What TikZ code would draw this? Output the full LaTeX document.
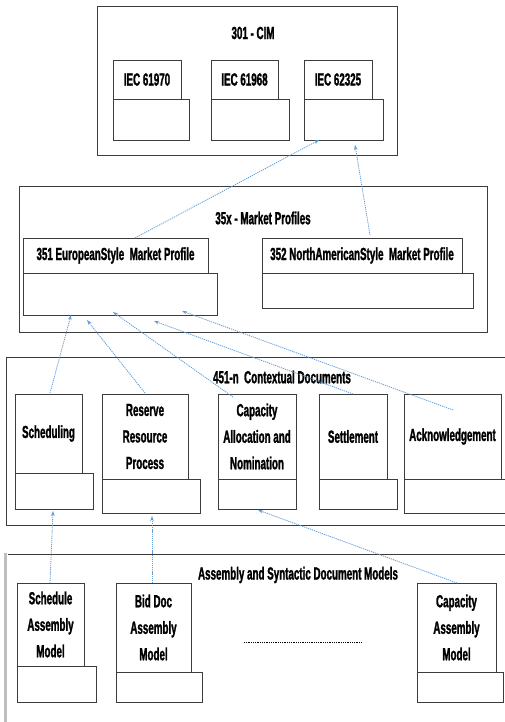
\documentclass[tikz,border=0pt]{standalone}
\usepackage{fontspec}
\newfontfamily\lblfam{Liberation Sans}[UprightFont={* Bold}, FakeStretch=0.56, UprightFeatures={FakeBold=1.3}]
\usetikzlibrary{arrows.meta,calc}
\definecolor{arrowblue}{RGB}{96,156,214}
\definecolor{linec}{RGB}{60,60,60}
\newcommand{\lblfont}{\lblfam\fontsize{17.5}{26.5}\selectfont}
\begin{document}
\begin{tikzpicture}[x=1pt,y=-1pt,
  outerbox/.style={draw=linec, line width=0.9pt},
  pkgtab/.style={draw=linec, line width=0.8pt, fill=white, inner sep=0pt, outer sep=0pt,
     anchor=north west, align=center, font=\lblfont},
  pkgbody/.style={draw=linec, line width=0.8pt, fill=white, inner sep=0pt, outer sep=0pt,
     anchor=north west},
  title/.style={font=\lblfont, inner sep=0pt},
  conn/.style={draw=arrowblue, line width=0.8pt, dash pattern=on 1.2pt off 0.9pt,
     -{Stealth[length=5pt,width=3.6pt]}}]
\useasboundingbox (0,0) rectangle (505,722);
\fill[white] (0,0) rectangle (505,722);

% ---------- 301 - CIM ----------
\draw[outerbox] (97,6) rectangle (397,155);
\node[title] (tcim) at (253,33) {301 - CIM};
\node[pkgbody, minimum width=76pt, minimum height=41pt] (b61970) at (113,99) {};
\node[pkgtab, minimum width=68pt, minimum height=39pt] (t61970) at (113,60) {IEC 61970};
\node[pkgbody, minimum width=78pt, minimum height=41pt] (b61968) at (211,99) {};
\node[pkgtab, minimum width=67pt, minimum height=39pt] (t61968) at (211,60) {IEC 61968};
\node[pkgbody, minimum width=79pt, minimum height=41pt] (b62325) at (304,99) {};
\node[pkgtab, minimum width=68pt, minimum height=39pt] (t62325) at (304,60) {IEC 62325};

% ---------- 35x - Market Profiles ----------
\draw[outerbox] (19,186) rectangle (487,332);
\node[title] (tmp) at (263,218) {35x - Market Profiles};
\node[pkgbody, minimum width=194pt, minimum height=42pt] (b351) at (23,273) {};
\node[pkgtab, minimum width=185pt, minimum height=35pt] (t351) at (23,238) {351 EuropeanStyle\ \ Market Profile};
\node[pkgbody, minimum width=211pt, minimum height=35pt] (b352) at (262,273) {};
\node[pkgtab, minimum width=200pt, minimum height=35pt] (t352) at (262,238) {352 NorthAmericanStyle\ \ Market Profile};

% ---------- 451-n Contextual Documents ----------
\draw[outerbox] (6,357) rectangle (520,525);
\node[title] (tcd) at (282,377) {451-n\ \ Contextual Documents};
\node[pkgbody, minimum width=78pt, minimum height=36pt] (bsch) at (15,473) {};
\node[pkgtab, minimum width=67pt, minimum height=79pt] (tsch) at (15,394) {Scheduling};
\node[pkgbody, minimum width=98pt, minimum height=34pt] (bres) at (102,479) {};
\node[pkgtab, minimum width=86pt, minimum height=85pt] (tres) at (102,394) {Reserve\\Resource\\Process};
\node[pkgbody, minimum width=78pt, minimum height=30pt] (bcap) at (218,479) {};
\node[pkgtab, minimum width=78pt, minimum height=85pt] (tcap) at (218,394) {Capacity\\Allocation and\\Nomination};
\node[pkgbody, minimum width=78pt, minimum height=30pt] (bset) at (319,479) {};
\node[pkgtab, minimum width=68pt, minimum height=85pt] (tset) at (319,394) {Settlement};
\node[pkgbody, minimum width=110pt, minimum height=34pt] (back) at (404,479) {};
\node[pkgtab, minimum width=97pt, minimum height=85pt] (tack) at (404,394) {Acknowledgement};

% ---------- Assembly and Syntactic Document Models ----------
\draw[draw=linec, line width=0.9pt] (8,554) -- (520,554);
\draw[draw=gray!50, line width=3pt] (5.5,553) -- (5.5,730);
\node[title] (tasm) at (298,575) {Assembly and Syntactic Document Models};
\node[pkgbody, minimum width=79pt, minimum height=36pt] (bsa) at (17,666) {};
\node[pkgtab, minimum width=67pt, minimum height=83pt] (tsa) at (17,583) {Schedule\\Assembly\\Model};
\node[pkgbody, minimum width=86pt, minimum height=30pt] (bbd) at (116,672) {};
\node[pkgtab, minimum width=75pt, minimum height=89pt] (tbd) at (116,583) {Bid Doc\\Assembly\\Model};
\node[pkgbody, minimum width=86pt, minimum height=30pt] (bca) at (417,672) {};
\node[pkgtab, minimum width=79pt, minimum height=89pt] (tca) at (417,583) {Capacity\\Assembly\\Model};
\draw[black, line width=0.6pt, dash pattern=on 1pt off 0.8pt] (244,642) -- (362,642);

% ---------- connector end points ----------
\coordinate (h62325a) at (319,140);
\coordinate (h62325b) at (355,145);
\coordinate (s351) at (135,238);
\coordinate (s352) at (370,235);
\coordinate (h351a) at (71,315);
\coordinate (h351b) at (87,320);
\coordinate (h351c) at (113,312);
\coordinate (h351d) at (154,321);
\coordinate (h351e) at (182,311);
\coordinate (ssch) at (50,393);
\coordinate (sres) at (145,393);
\coordinate (scap) at (233,397);
\coordinate (sset) at (353,394);
\coordinate (sack) at (453,410);
\coordinate (hsch) at (53,511);
\coordinate (hres) at (152,516);
\coordinate (hcap) at (258,510);
\coordinate (ssa) at (50,583);
\coordinate (sbd) at (152,583);
\coordinate (sca) at (457,583);

% ---------- connectors ----------
\draw[conn] (s351) -- (h62325a);
\draw[conn] (s352) -- (h62325b);
\draw[conn] (ssch) -- (h351a);
\draw[conn] (sres) -- (h351b);
\draw[conn] (scap) -- (h351c);
\draw[conn] (sset) -- (h351d);
\draw[conn] (sack) -- (h351e);
\draw[conn] (ssa) -- (hsch);
\draw[conn] (sbd) -- (hres);
\draw[conn] (sca) -- (hcap);
\end{tikzpicture}
\end{document}
